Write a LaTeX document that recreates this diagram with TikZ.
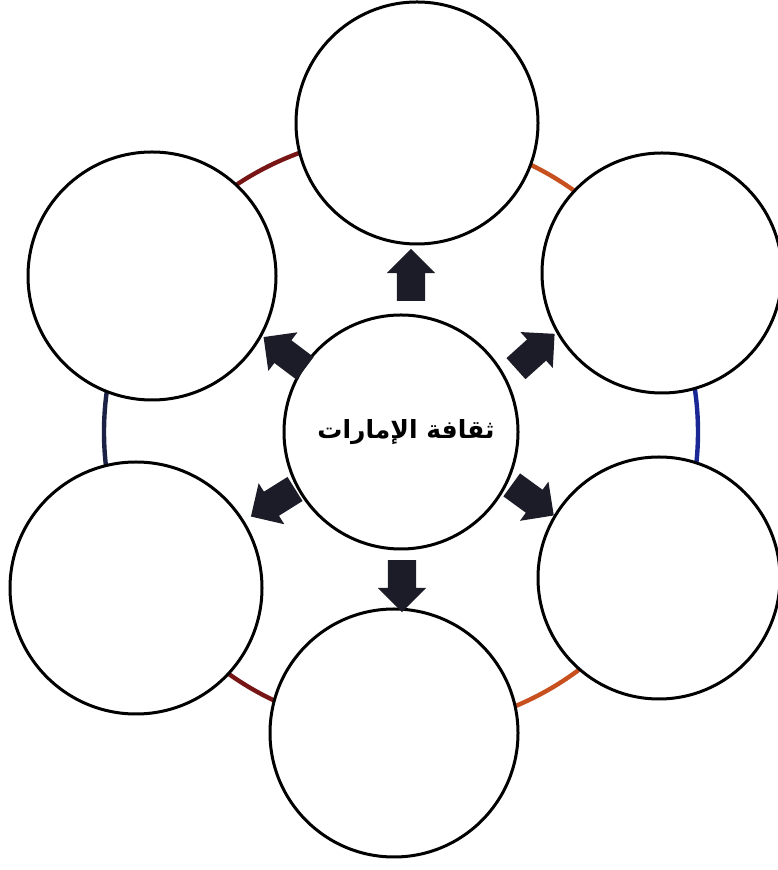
\documentclass[tikz,border=0pt]{standalone}
\usepackage{fontspec}
\usetikzlibrary{shapes.arrows}
\newfontfamily\arabicfont[Script=Arabic]{DejaVu Sans}
\TeXXeTstate=1
\definecolor{ringred}{RGB}{120,22,22}
\definecolor{ringorange}{RGB}{200,80,30}
\definecolor{ringblue}{RGB}{26,40,150}
\definecolor{ringnavy}{RGB}{28,34,70}
\definecolor{arrowdark}{RGB}{28,28,40}
\begin{document}
\begin{tikzpicture}[x=1pt, y=1pt,
  bubble/.style={circle, draw=black, line width=3pt, fill=white, inner sep=0pt},
  ringarc/.style={line width=4.4pt},
  blockarr/.style={single arrow, fill=arrowdark, inner sep=14pt,
                   minimum height=52pt,
                   single arrow head extend=10pt, single arrow head indent=0pt}
]
  \useasboundingbox (0,0) rectangle (778,870);
  % ring behind the bubbles
  \coordinate (hub) at (401,438);
  \draw[ringarc, ringblue]   ([shift={(-30:297)}]hub) arc[start angle=-30, end angle=30, radius=297];
  \draw[ringarc, ringorange] ([shift={(30:297)}]hub)  arc[start angle=30,  end angle=90, radius=297];
  \draw[ringarc, ringred]    ([shift={(90:297)}]hub)  arc[start angle=90,  end angle=150, radius=297];
  \draw[ringarc, ringnavy]   ([shift={(150:297)}]hub) arc[start angle=150, end angle=210, radius=297];
  \draw[ringarc, ringred]    ([shift={(210:297)}]hub) arc[start angle=210, end angle=270, radius=297];
  \draw[ringarc, ringorange] ([shift={(270:297)}]hub) arc[start angle=270, end angle=330, radius=297];
  % outer bubbles
  \node[bubble, minimum size=242pt] (top)      at (417,747) {};
  \node[bubble, minimum size=248pt] (topleft)  at (152,594) {};
  \node[bubble, minimum size=240pt] (topright) at (662,597) {};
  \node[bubble, minimum size=252pt] (botleft)  at (136,282) {};
  \node[bubble, minimum size=242pt] (botright) at (659,292) {};
  \node[bubble, minimum size=248pt] (bottom)   at (394,137) {};
  % centre
  \node[bubble, minimum size=234pt] (main) at (hub) {};
  \node[font=\arabicfont\bfseries\fontsize{25}{30}\selectfont, xshift=5pt]
    (title) at (main) {\beginR ثقافة الإمارات\endR};
  % arrows
  \node[blockarr, rotate=90]   (arrtop)      at (411,588) {};
  \node[blockarr, rotate=143]  (arrtopleft)  at (290,513) {};
  \node[blockarr, rotate=42]   (arrtopright) at (530,514) {};
  \node[blockarr, rotate=-36]  (arrbotright) at (527,374) {};
  \node[blockarr, rotate=-148] (arrbotleft)  at (279,371) {};
  \node[blockarr, rotate=-90]  (arrbottom)   at (402,291) {};
\end{tikzpicture}
\end{document}
